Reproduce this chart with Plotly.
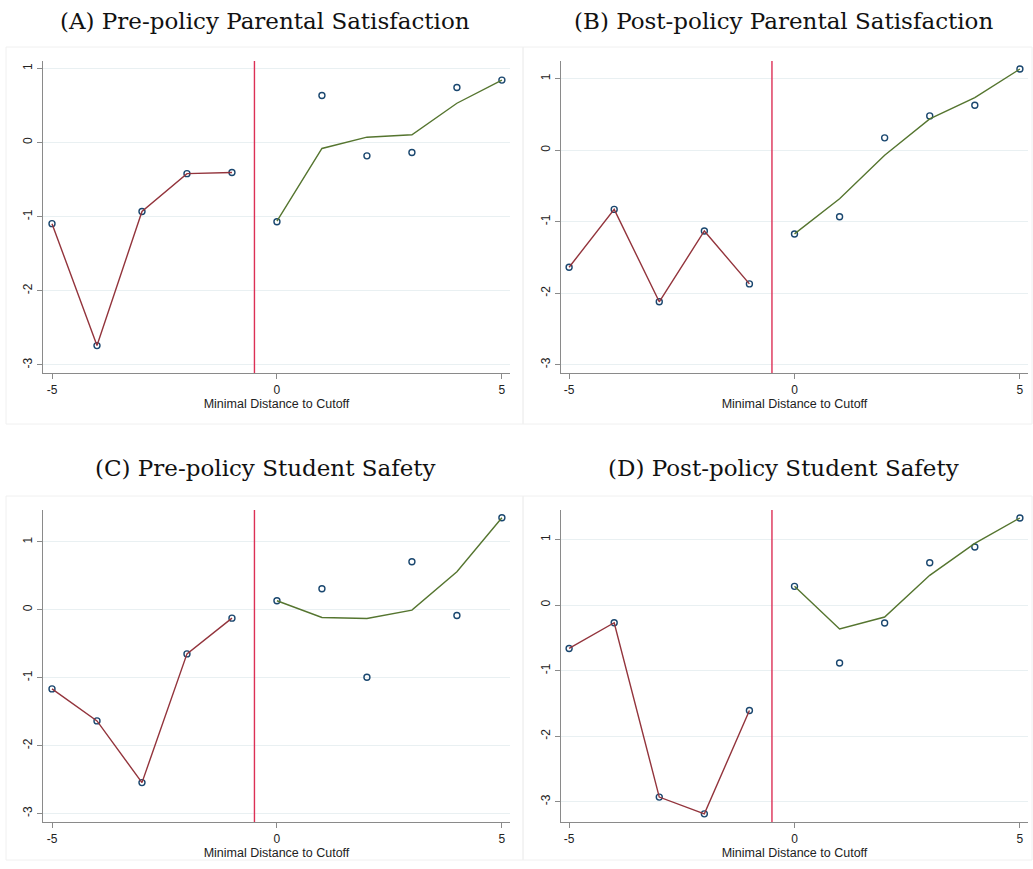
import plotly.graph_objects as go

# Bins of the running variable (minimal distance to the cutoff)
bins_left = [-5, -4, -3, -2, -1]
bins_right = [0, 1, 2, 3, 4, 5]
cutoff = -0.5

# (A) Pre-policy parental satisfaction
a_left = [-1.095, -2.74, -0.93, -0.42, -0.405]
a_right_pts = [-1.07, 0.635, -0.18, -0.135, 0.743, 0.842]
a_right_fit = [-1.06, -0.08, 0.072, 0.104, 0.53, 0.842]

# (B) Post-policy parental satisfaction
b_left = [-1.637, -0.828, -2.12, -1.13, -1.87]
b_right_pts = [-1.172, -0.93, 0.172, 0.479, 0.628, 1.135]
b_right_fit = [-1.17, -0.68, -0.07, 0.437, 0.735, 1.135]

# (C) Pre-policy student safety
c_left = [-1.165, -1.636, -2.545, -0.649, -0.123]
c_right_pts = [0.133, 0.31, -0.993, 0.708, -0.084, 1.356]
c_right_fit = [0.133, -0.113, -0.128, -0.005, 0.56, 1.356]

# (D) Post-policy student safety
d_left = [-0.662, -0.27, -2.93, -3.186, -1.608]
d_right_pts = [0.285, -0.885, -0.275, 0.646, 0.885, 1.328]
d_right_fit = [0.285, -0.366, -0.183, 0.453, 0.94, 1.328]

titles = [
    "(A) Pre-policy Parental Satisfaction",
    "(B) Post-policy Parental Satisfaction",
    "(C) Pre-policy Student Safety",
    "(D) Post-policy Student Safety",
]
x_ticks = [-5, 0, 5]
y_ticks = [-3, -2, -1, 0, 1]
x_title = "Minimal Distance to Cutoff"

W, H = 1033, 869

MARKER = "#1a476f"
LEFT_LINE = "#93343c"
RIGHT_LINE = "#55752f"
CUTOFF_LINE = "#dc2f55"
GRID = "#e9f0f2"
AXIS = "#8a8a8a"
FRAME = "#f0f0f0"


def px_x(v):
    return v / W


def px_y(v):
    return 1 - v / H


# panel layout in pixels: plot area (x0, x1, y0, y1), frame box, title centre, axis ranges
panels = [
    dict(data=(a_left, a_right_pts, a_right_fit), plot=(43, 510, 61, 373),
         frame=(6, 523, 47, 424), title=(265, 21), xr=[-5.2, 5.18], yr=[-3.11, 1.10]),
    dict(data=(b_left, b_right_pts, b_right_fit), plot=(561, 1028, 61, 373),
         frame=(523, 1032, 47, 424), title=(783, 21), xr=[-5.18, 5.18], yr=[-3.116, 1.247]),
    dict(data=(c_left, c_right_pts, c_right_fit), plot=(43, 510, 510, 822),
         frame=(6, 523, 496, 860), title=(265, 468), xr=[-5.2, 5.18], yr=[-3.125, 1.47]),
    dict(data=(d_left, d_right_pts, d_right_fit), plot=(561, 1028, 510, 822),
         frame=(523, 1032, 496, 860), title=(783, 468), xr=[-5.18, 5.18], yr=[-3.31, 1.45]),
]

fig = go.Figure()
shapes = []
annotations = []
layout_axes = {}

for i, p in enumerate(panels, start=1):
    xa = "x" if i == 1 else f"x{i}"
    ya = "y" if i == 1 else f"y{i}"
    left, right_pts, right_fit = p["data"]

    # binned means, hollow circles
    fig.add_trace(go.Scatter(
        x=bins_left + bins_right, y=left + right_pts, mode="markers",
        marker=dict(symbol="circle-open", size=6, color=MARKER, line=dict(width=1.4)),
        xaxis=xa, yaxis=ya, showlegend=False, hoverinfo="x+y"))
    # fitted lines on each side of the cutoff
    fig.add_trace(go.Scatter(
        x=bins_left, y=left, mode="lines", line=dict(color=LEFT_LINE, width=1.4),
        xaxis=xa, yaxis=ya, showlegend=False))
    fig.add_trace(go.Scatter(
        x=bins_right, y=right_fit, mode="lines", line=dict(color=RIGHT_LINE, width=1.4),
        xaxis=xa, yaxis=ya, showlegend=False))

    x0, x1, y0, y1 = p["plot"]
    key = "" if i == 1 else str(i)
    layout_axes[f"xaxis{key}"] = dict(
        domain=[px_x(x0), px_x(x1)], range=p["xr"], anchor=ya,
        tickmode="array", tickvals=x_ticks, ticktext=[str(t) for t in x_ticks],
        ticks="outside", ticklen=5, tickcolor=AXIS, tickwidth=1,
        showline=True, linecolor=AXIS, linewidth=1.3, showgrid=False, zeroline=False,
        tickfont=dict(family="Liberation Sans, Arial, sans-serif", size=12, color="#222"),
        title=dict(text=x_title, standoff=3,
                   font=dict(family="Liberation Sans, Arial, sans-serif", size=12.5, color="#222")),
    )
    layout_axes[f"yaxis{key}"] = dict(
        domain=[px_y(y1), px_y(y0)], range=p["yr"], anchor=xa,
        tickmode="array", tickvals=y_ticks, ticktext=[str(t) for t in y_ticks],
        ticks="outside", ticklen=5, tickcolor=AXIS, tickwidth=1, tickangle=-90,
        showline=True, linecolor=AXIS, linewidth=1.3,
        showgrid=True, gridcolor=GRID, gridwidth=1, zeroline=False,
        tickfont=dict(family="Liberation Sans, Arial, sans-serif", size=12, color="#222"),
    )

    # vertical line at the cutoff
    shapes.append(dict(type="line", xref=xa, yref=f"{ya} domain", x0=cutoff, x1=cutoff,
                       y0=0, y1=1, line=dict(color=CUTOFF_LINE, width=1.4)))
    # light frame around each panel
    fx0, fx1, fy0, fy1 = p["frame"]
    shapes.append(dict(type="rect", xref="paper", yref="paper",
                       x0=px_x(fx0), x1=px_x(fx1), y0=px_y(fy1), y1=px_y(fy0),
                       line=dict(color=FRAME, width=1), fillcolor="rgba(0,0,0,0)", layer="below"))
    tx, ty = p["title"]
    annotations.append(dict(text=titles[i - 1], xref="paper", yref="paper",
                            x=px_x(tx), y=px_y(ty), xanchor="center", yanchor="middle",
                            showarrow=False,
                            font=dict(family="DejaVu Serif, Liberation Serif, serif",
                                      size=23, color="#111")))

fig.update_layout(
    width=W, height=H, margin=dict(l=0, r=0, t=0, b=0),
    paper_bgcolor="white", plot_bgcolor="white",
    shapes=shapes, annotations=annotations, **layout_axes,
)

fig.write_html("out.html")
